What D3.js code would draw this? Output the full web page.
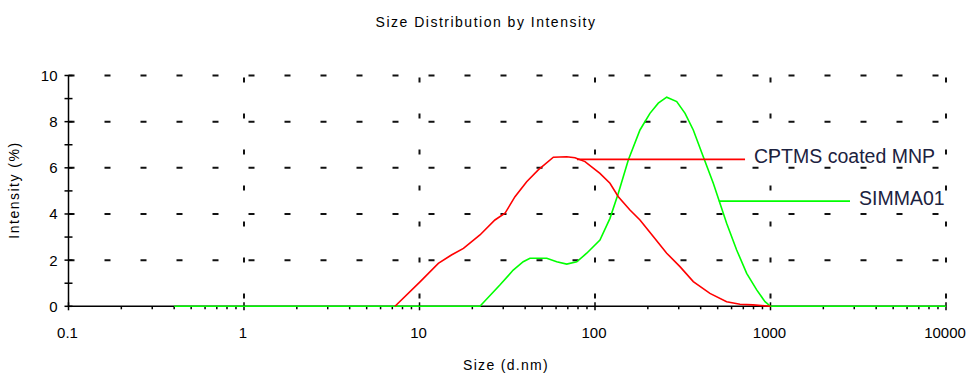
<!DOCTYPE html>
<html>
<head>
<meta charset="utf-8">
<script src="https://cdn.jsdelivr.net/npm/d3@7"></script>
<style>
  html, body { margin: 0; padding: 0; background: #fff; }
  svg { display: block; font-family: "Liberation Sans", Arial, sans-serif; }
</style>
</head>
<body>
<svg width="972" height="374"></svg>
<script>
// ---- Data
const xTicks = [0.1, 1, 10, 100, 1000, 10000];
const yTicks = [0, 2, 4, 6, 8, 10];

const cptmsSizes  = [7.25, 10.1, 12.8, 15.2, 17.8, 22.1, 26.9, 30.7, 35.0, 40.8, 47.5, 57.9, 69.0, 76.9, 87.7, 106.7, 121.7, 135.8, 158.2, 180.4, 214.8, 256.2, 304.9, 363.1, 451.7, 562.3, 669.9, 794.3, 1000];
const cptmsValues = [0, 1.07, 1.86, 2.22, 2.51, 3.09, 3.74, 4.03, 4.75, 5.40, 5.91, 6.46, 6.48, 6.44, 6.27, 5.76, 5.33, 4.75, 4.17, 3.74, 3.02, 2.30, 1.72, 1.07, 0.56, 0.20, 0.09, 0.06, 0];

const simmaSizes  = [0.4, 22.1, 28.7, 34.2, 39.0, 42.6, 53.1, 60.5, 69.0, 78.7, 89.7, 106.7, 121.7, 135.8, 154.8, 180.4, 205.6, 229.4, 256.2, 292.2, 326.0, 363.1, 414.0, 472.1, 515.2, 562.3, 641.5, 731.6, 834.4, 930.6, 1000, 10000];
const simmaValues = [0, 0, 0.92, 1.57, 1.93, 2.08, 2.08, 1.93, 1.83, 1.93, 2.30, 2.87, 3.81, 4.90, 6.34, 7.64, 8.36, 8.80, 9.06, 8.87, 8.36, 7.64, 6.48, 5.33, 4.46, 3.60, 2.44, 1.43, 0.71, 0.20, 0, 0];

const seriesNames  = ['SIMMA01', 'CPTMS coated MNP'];
const seriesColors = ['#00ff00', '#ff0000'];
// label leader lines: start point on the curve, end size of the line
const labelStartSize = [508, 78.9];
const labelStartValue = [4.56, 6.37];
const labelEndSize = [2838, 716];

const series = [
    { name: seriesNames[0], color: seriesColors[0], pts: simmaSizes.map((s, i) => ({ size: s, value: simmaValues[i] })) },
    { name: seriesNames[1], color: seriesColors[1], pts: cptmsSizes.map((s, i) => ({ size: s, value: cptmsValues[i] })) }
];

const svg = d3.select('svg');
const plotLeft = 68.5, plotRight = 946, plotTop = 75.5, plotBottom = 306.3;

// ---- Escalas
const mapX = d3.scaleLog().domain([0.1, 10000]).range([plotLeft, plotRight]);
const mapY = d3.scaleLinear().domain([0, 10]).range([plotBottom, plotTop]);

// ---- Grid (dashed)
const grid = svg.append('g').attr('id', 'grid')
    .attr('stroke', '#111')
    .attr('stroke-width', 2);

grid.selectAll('.hgrid')
    .data(yTicks.filter(d => d > 0))
    .join('line')
    .attr('class', 'hgrid')
    .attr('x1', plotLeft).attr('x2', plotRight)
    .attr('y1', d => mapY(d)).attr('y2', d => mapY(d))
    .attr('stroke-dasharray', '6,30');

grid.selectAll('.vgrid')
    .data(xTicks.filter(d => d > 0.1))
    .join('line')
    .attr('class', 'vgrid')
    .attr('x1', d => mapX(d)).attr('x2', d => mapX(d))
    .attr('y1', plotTop + 2).attr('y2', plotBottom)
    .attr('stroke-dasharray', '5,31');

// ---- Eixos
const axes = svg.append('g').attr('id', 'axes').attr('stroke', '#000');

axes.append('line')
    .attr('x1', plotLeft).attr('x2', plotRight)
    .attr('y1', plotBottom).attr('y2', plotBottom)
    .attr('stroke-width', 1.5);

axes.append('line')
    .attr('x1', plotLeft).attr('x2', plotLeft)
    .attr('y1', plotTop).attr('y2', plotBottom)
    .attr('stroke-width', 1.5);

// y ticks every unit, crossing the axis
axes.selectAll('.ytick')
    .data(d3.range(0, 11))
    .join('line')
    .attr('class', 'ytick')
    .attr('x1', plotLeft - 4).attr('x2', plotLeft + 4)
    .attr('y1', d => mapY(d)).attr('y2', d => mapY(d))
    .attr('stroke-width', 1.5);

// x ticks: decades cross the axis, minor ticks below
const minor = [];
for (let e = -1; e < 4; e++) {
    for (let k = 2; k <= 9; k++) minor.push(k * Math.pow(10, e));
}
axes.selectAll('.xminor')
    .data(minor)
    .join('line')
    .attr('class', 'xminor')
    .attr('x1', d => mapX(d)).attr('x2', d => mapX(d))
    .attr('y1', plotBottom).attr('y2', plotBottom + 3)
    .attr('stroke-width', 1.5);

axes.selectAll('.xmajor')
    .data(xTicks)
    .join('line')
    .attr('class', 'xmajor')
    .attr('x1', d => mapX(d)).attr('x2', d => mapX(d))
    .attr('y1', plotBottom - 4).attr('y2', plotBottom + 4)
    .attr('stroke-width', 1.5);

svg.selectAll('.ylabel')
    .data(yTicks)
    .join('text')
    .attr('class', 'ylabel')
    .attr('x', plotLeft - 11)
    .attr('y', d => mapY(d) + 5.5)
    .attr('text-anchor', 'end')
    .attr('font-size', '15px')
    .text(d => d);

svg.selectAll('.xlabel')
    .data(xTicks)
    .join('text')
    .attr('class', 'xlabel')
    .attr('x', d => mapX(d) - 1)
    .attr('y', 337.5)
    .attr('text-anchor', 'middle')
    .attr('font-size', '15px')
    .text(d => d3.format('~g')(d));

// ---- Títulos
svg.append('text')
    .attr('x', 486).attr('y', 27)
    .attr('text-anchor', 'middle')
    .attr('font-size', '14px')
    .attr('letter-spacing', '1.5px')
    .text('Size Distribution by Intensity');

svg.append('text')
    .attr('x', 506).attr('y', 370)
    .attr('text-anchor', 'middle')
    .attr('font-size', '14px')
    .attr('letter-spacing', '1.3px')
    .text('Size (d.nm)');

svg.append('text')
    .attr('transform', 'translate(19, 190) rotate(-90)')
    .attr('text-anchor', 'middle')
    .attr('font-size', '14px')
    .attr('letter-spacing', '1.5px')
    .text('Intensity (%)');

// ---- Curvas
const line = d3.line()
    .x(d => mapX(d.size))
    .y(d => mapY(d.value));

svg.append('g').attr('id', 'curves')
    .selectAll('path')
    .data(series)
    .join('path')
    .attr('d', d => line(d.pts))
    .attr('fill', 'none')
    .attr('stroke', d => d.color)
    .attr('stroke-width', 1.6);

// ---- Rótulos das séries
const labels = svg.append('g').attr('id', 'labels');
series.forEach((s, i) => {
    const y0 = mapY(labelStartValue[i]);
    labels.append('line')
        .attr('x1', mapX(labelStartSize[i])).attr('x2', mapX(labelEndSize[i]))
        .attr('y1', y0).attr('y2', y0)
        .attr('stroke', s.color)
        .attr('stroke-width', 1.8);
    labels.append('text')
        .attr('x', mapX(labelEndSize[i]) + 9)
        .attr('y', y0 + 3.5)
        .attr('font-size', '19.5px')
        .attr('fill', '#1c2240')
        .text(s.name);
});
</script>
</body>
</html>
